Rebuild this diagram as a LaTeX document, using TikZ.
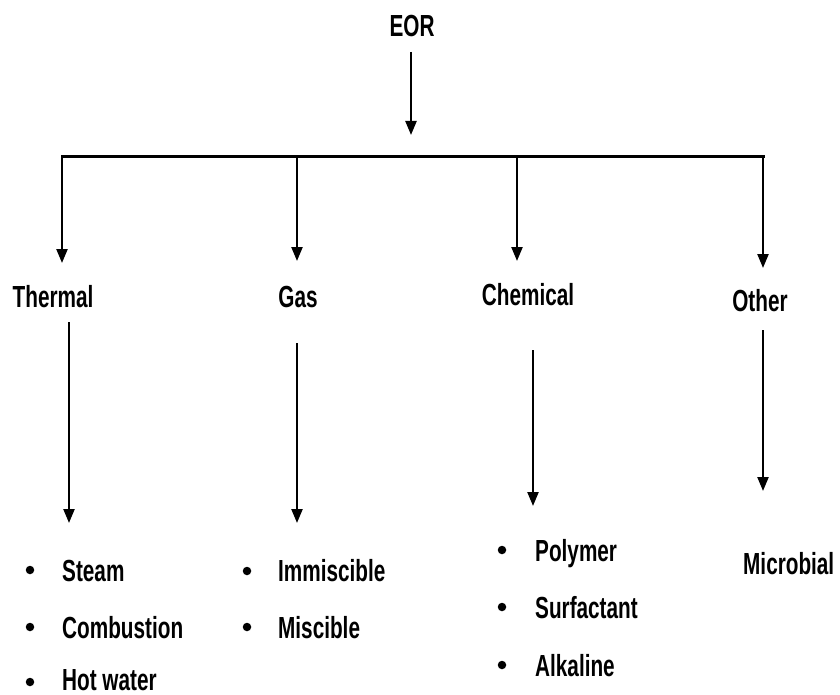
\documentclass[tikz,border=0pt]{standalone}
\usepackage{fontspec}
\setmainfont{Liberation Sans}[FakeStretch=0.68]
\usetikzlibrary{arrows.meta}
\begin{document}
\begin{tikzpicture}[x=1pt,y=-1pt,
  lbl/.style={inner sep=0pt, font=\fontsize{30.5}{33}\selectfont\bfseries},
  item/.style={lbl, anchor=base west},
  bul/.style={circle, fill=black, inner sep=0pt, minimum size=8.5pt},
  arr/.style={line width=2.3pt, -{Triangle[length=14pt,width=11pt]}},
  bar/.style={line width=3pt}]
\useasboundingbox (0,0) rectangle (840,695);
% top
\node[lbl, anchor=base] (eor) at (412,37) {EOR};
\coordinate (eors) at (411,52);
\coordinate (eore) at (411,135);
\draw[arr] (eors) -- (eore);
% bar
\coordinate (bl) at (62,157);
\coordinate (b2) at (297,157);
\coordinate (b3) at (517,157);
\coordinate (br) at (763,157);
\draw[bar, line cap=rect] (bl) -- (br);
% categories
\node[lbl, anchor=base] (thermal) at (53,307) {Thermal};
\node[lbl, anchor=base] (gas) at (298,307) {Gas};
\node[lbl, anchor=base] (chem) at (528,305) {Chemical};
\node[lbl, anchor=base] (other) at (760,311) {Other};
\coordinate (t1) at (62,263);
\coordinate (t2) at (297,261);
\coordinate (t3) at (517,261);
\coordinate (t4) at (763,268);
\draw[arr] (bl) -- (t1);
\draw[arr] (b2) -- (t2);
\draw[arr] (b3) -- (t3);
\draw[arr] (br) -- (t4);
% second level arrows
\coordinate (s1) at (69,322);  \coordinate (e1) at (69,523);
\coordinate (s2) at (297,343); \coordinate (e2) at (297,523);
\coordinate (s3) at (533,350); \coordinate (e3) at (533,506);
\coordinate (s4) at (763,330); \coordinate (e4) at (763,491);
\draw[arr] (s1) -- (e1);
\draw[arr] (s2) -- (e2);
\draw[arr] (s3) -- (e3);
\draw[arr] (s4) -- (e4);
% thermal list
\node[bul] (tb1) at (30,570) {};
\node[item] (steam) at (62,581) {Steam};
\node[bul] (tb2) at (30,627) {};
\node[item] (comb) at (62,638) {Combustion};
\node[bul] (tb3) at (30,682) {};
\node[item] (hot) at (62,690) {Hot water};
% gas list
\node[bul] (gb1) at (247,571) {};
\node[item] (immis) at (278,581) {Immiscible};
\node[bul] (gb2) at (247,627) {};
\node[item] (mis) at (278,638) {Miscible};
% chemical list
\node[bul] (cb1) at (502,550) {};
\node[item] (poly) at (535,561) {Polymer};
\node[bul] (cb2) at (502,607) {};
\node[item] (surf) at (535,618) {Surfactant};
\node[bul] (cb3) at (502,665) {};
\node[item] (alk) at (535,676) {Alkaline};
% other
\node[item] (micro) at (743,574) {Microbial};
\end{tikzpicture}
\end{document}
